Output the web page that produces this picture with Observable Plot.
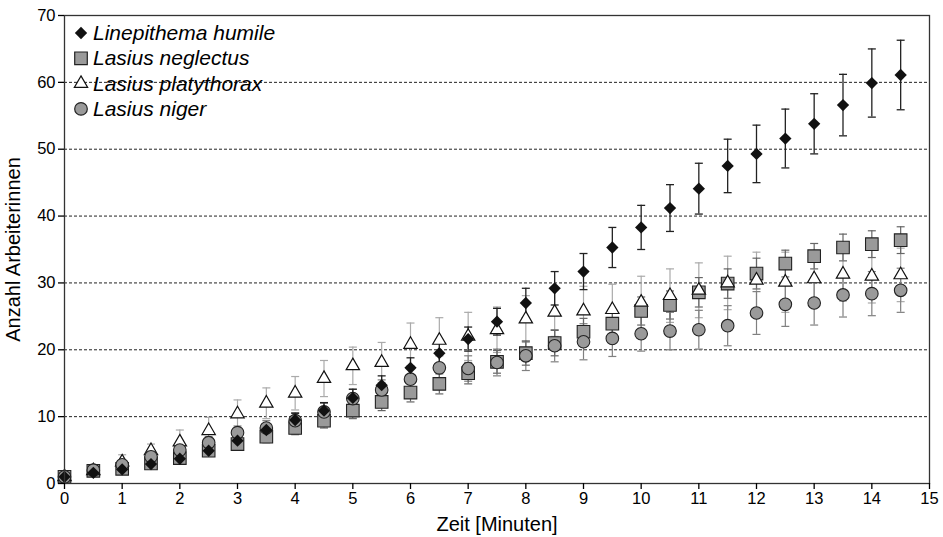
<!DOCTYPE html>
<html>
<head>
<meta charset="utf-8">
<script src="https://cdn.jsdelivr.net/npm/d3@7"></script>
<script src="https://cdn.jsdelivr.net/npm/@observablehq/plot@0.6"></script>
<style>
  html, body { margin: 0; padding: 0; background: #fff; }
  #wrap { position: relative; width: 943px; height: 537px; font-family: "Liberation Sans", Arial, Helvetica, sans-serif; }
  #legend { position: absolute; left: 0; top: 0; }
</style>
</head>
<body>
<div id="wrap"></div>
<script>
const times = [0,0.5,1,1.5,2,2.5,3,3.5,4,4.5,5,5.5,6,6.5,7,7.5,8,8.5,9,9.5,10,10.5,11,11.5,12,12.5,13,13.5,14,14.5];

const humile      = [1.0,1.6,2.1,2.9,3.7,4.9,6.4,8.0,9.5,10.9,12.8,14.7,17.3,19.5,21.6,24.2,27.0,29.2,31.7,35.3,38.3,41.2,44.1,47.5,49.3,51.6,53.8,56.6,59.9,61.1];
const humileErr   = [0.3,0.4,0.5,0.5,0.6,0.7,0.8,0.9,1.0,1.2,1.3,1.4,1.5,1.6,1.8,2.0,2.2,2.5,2.7,3.0,3.3,3.5,3.8,4.0,4.3,4.4,4.5,4.6,5.1,5.2];

const neglectus    = [1.0,1.9,2.2,3.0,3.8,4.9,5.9,7.0,8.3,9.4,10.9,12.2,13.6,14.9,16.5,18.2,19.5,21.0,22.7,23.9,25.8,26.7,28.6,29.9,31.4,32.9,34.0,35.3,35.8,36.4];
const neglectusErr = [0.3,0.4,0.4,0.5,0.6,0.7,0.8,0.9,1.0,1.1,1.2,1.3,1.4,1.5,1.6,1.7,1.8,1.9,2.0,2.0,2.1,2.1,2.2,2.2,2.3,2.0,1.9,2.0,2.0,2.0];

const platythorax    = [1.0,1.9,3.2,4.9,6.2,7.9,10.4,12.0,13.5,15.7,17.6,18.1,20.8,21.4,22.0,23.0,24.6,25.6,25.8,26.0,27.1,28.1,28.9,30.0,30.4,30.1,30.6,31.3,31.0,31.2];
const platythoraxErr = [0.3,0.6,1.1,1.0,1.8,2.0,2.1,2.3,2.5,2.7,2.8,3.0,3.2,3.4,3.6,3.4,3.5,3.6,3.7,3.8,3.9,4.0,4.1,4.0,4.2,4.5,4.0,4.0,4.0,4.0];

const niger    = [1.0,2.0,2.8,4.0,5.0,6.1,7.6,8.3,9.4,10.7,12.7,14.0,15.6,17.3,17.2,18.1,19.1,20.6,21.2,21.7,22.4,22.8,23.0,23.6,25.5,26.8,27.0,28.2,28.4,28.9];
const nigerErr = [0.3,0.5,0.6,0.7,0.8,0.9,1.0,1.1,1.2,1.3,1.4,1.5,1.6,1.8,1.9,2.0,2.2,2.4,2.7,2.7,2.6,2.8,2.9,3.0,3.2,3.3,3.3,3.3,3.3,3.3];

const seriesNames = ["Linepithema humile", "Lasius neglectus", "Lasius platythorax", "Lasius niger"];
const xTicks = [0,1,2,3,4,5,6,7,8,9,10,11,12,13,14,15];
const yTicks = [0,10,20,30,40,50,60,70];
const yGrid = [10,20,30,40,50,60];

const toRows = (vals, errs) => times.map((t, i) => ({t, v: vals[i], e: errs[i]}));
const dHum = toRows(humile, humileErr);
const dNeg = toRows(neglectus, neglectusErr);
const dPla = toRows(platythorax, platythoraxErr);
const dNig = toRows(niger, nigerErr);

const cap = {draw(ctx) { ctx.moveTo(-4, 0); ctx.lineTo(4, 0); }};

function errMarks(data, color, w) {
  return [
    Plot.ruleX(data, {x: "t", y1: d => d.v - d.e, y2: d => d.v + d.e, stroke: color, strokeWidth: w}),
    Plot.dot(data, {x: "t", y: d => d.v + d.e, symbol: cap, r: 4, stroke: color, strokeWidth: w, fill: "none"}),
    Plot.dot(data, {x: "t", y: d => d.v - d.e, symbol: cap, r: 4, stroke: color, strokeWidth: w, fill: "none"})
  ];
}

const chart = Plot.plot({
  width: 943,
  height: 537,
  marginLeft: 64,
  marginRight: 14,
  marginTop: 15,
  marginBottom: 54,
  style: {fontFamily: '"Liberation Sans", Arial, Helvetica, sans-serif', fontSize: "16px", color: "#000", background: "#fff"},
  x: {domain: [0, 15], ticks: xTicks, tickSize: 6, tickPadding: 3, label: null},
  y: {domain: [0, 70], ticks: yTicks, tickSize: 6, tickPadding: 3, label: null},
  marks: [
    Plot.ruleY(yGrid, {stroke: "#222", strokeWidth: 1, strokeDasharray: "3,2"}),
    ...errMarks(dPla, "#aaa", 1.2),
    ...errMarks(dNig, "#808080", 1.2),
    ...errMarks(dNeg, "#666", 1.2),
    ...errMarks(dHum, "#222", 1.3),
    Plot.dot(dNeg, {x: "t", y: "v", symbol: "square", r: 7.1, fill: "#9a9a9a", stroke: "#222", strokeWidth: 1.1}),
    Plot.dot(dPla, {x: "t", y: "v", symbol: "triangle", r: 4.95, fill: "#fff", stroke: "#111", strokeWidth: 1.2}),
    Plot.dot(dNig, {x: "t", y: "v", symbol: "circle", r: 6.3, fill: "#9a9a9a", stroke: "#222", strokeWidth: 1.1}),
    Plot.dot(dHum, {x: "t", y: "v", symbol: "square", rotate: 45, r: 4.9, fill: "#111", stroke: "none"}),
    Plot.frame({stroke: "#333", strokeWidth: 1.3}),
    Plot.axisX({ticks: xTicks, tickSize: 6, tickPadding: 3, tickFormat: d => String(d), fontSize: 16.5, label: null, strokeWidth: 1.3}),
    Plot.axisY({ticks: yTicks, tickSize: 6, tickPadding: 3, tickFormat: d => String(d), fontSize: 16.5, label: null, strokeWidth: 1.3}),
    Plot.text(["Zeit [Minuten]"], {frameAnchor: "bottom", textAnchor: "middle", dy: 47, text: d => d, fontSize: 20, fill: "#000"}),
    Plot.text(["Anzahl Arbeiterinnen"], {frameAnchor: "left", textAnchor: "middle", lineAnchor: "middle", dx: -51, rotate: -90, text: d => d, fontSize: 20, fill: "#000"})
  ]
});

const wrap = document.getElementById("wrap");
wrap.appendChild(chart);

// Legend overlay
const leg = d3.select(wrap).append("svg")
  .attr("id", "legend").attr("width", 320).attr("height", 130);
const legendSym = [
  {name: seriesNames[0], sym: d3.symbolSquare, size: Math.PI * 4.9 * 4.9, rot: 45, fill: "#111", stroke: "none"},
  {name: seriesNames[1], sym: d3.symbolSquare, size: Math.PI * 7.1 * 7.1, rot: 0, fill: "#9a9a9a", stroke: "#222"},
  {name: seriesNames[2], sym: d3.symbolTriangle, size: Math.PI * 4.95 * 4.95, rot: 0, fill: "#fff", stroke: "#111"},
  {name: seriesNames[3], sym: d3.symbolCircle, size: Math.PI * 6.3 * 6.3, rot: 0, fill: "#9a9a9a", stroke: "#222"}
];
const rows = leg.selectAll("g").data(legendSym).join("g")
  .attr("transform", (d, i) => `translate(81,${33 + i * 25.3})`);
rows.append("path")
  .attr("d", d => d3.symbol(d.sym, d.size)())
  .attr("transform", d => `rotate(${d.rot})`)
  .attr("fill", d => d.fill).attr("stroke", d => d.stroke).attr("stroke-width", 1.2);
rows.append("text")
  .attr("x", 12).attr("y", 7)
  .attr("font-family", '"Liberation Sans", Arial, Helvetica, sans-serif')
  .attr("font-style", "italic").attr("font-size", 21)
  .text(d => d.name);
</script>
</body>
</html>
